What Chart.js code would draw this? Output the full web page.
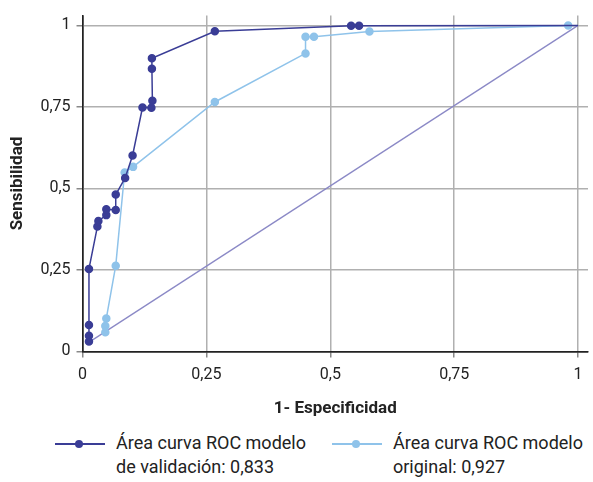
<!DOCTYPE html>
<html>
<head>
<meta charset="utf-8">
<script src="https://cdn.jsdelivr.net/npm/chart.js@4/dist/chart.umd.min.js"></script>
<style>
  body { margin: 0; background: #fff; font-family: Roboto, "Open Sans", sans-serif; }
  #wrap { position: relative; width: 593px; height: 482px; }
  #legend { position: absolute; left: 0; top: 431px; width: 593px; color: #222; font-size: 18px; line-height: 24px; }
  .item { position: absolute; top: 0; display: flex; }
  .sym { position: relative; width: 50px; height: 24px; margin-right: 11px; }
  .sym .ln { position: absolute; left: 0; right: 0; top: 12px; height: 2px; }
  .sym .dt { position: absolute; left: 20px; top: 9px; width: 8px; height: 8px; border-radius: 50%; }
  canvas { position: absolute; left: 0; top: 0; }
</style>
</head>
<body>
<div id="wrap">
  <canvas id="rocChart" width="593" height="422"></canvas>
  <div id="legend"></div>
</div>
<script>
const xTicks = [0, 0.25, 0.5, 0.75, 1];
const yTicks = [0, 0.25, 0.5, 0.75, 1];

const validX = [0.013, 0.013, 0.013, 0.013, 0.030, 0.032, 0.048, 0.048, 0.067, 0.067, 0.086, 0.101, 0.121, 0.139, 0.141, 0.140, 0.140, 0.267, 0.542, 0.558, 1];
const validY = [0.030, 0.048, 0.081, 0.253, 0.383, 0.400, 0.418, 0.436, 0.434, 0.481, 0.532, 0.601, 0.748, 0.747, 0.769, 0.867, 0.899, 0.982, 0.999, 0.999, 1];

const origX = [0.046, 0.046, 0.048, 0.067, 0.085, 0.102, 0.267, 0.450, 0.450, 0.467, 0.579, 0.980];
const origY = [0.059, 0.078, 0.101, 0.263, 0.549, 0.566, 0.765, 0.914, 0.965, 0.965, 0.981, 1.0];

const refX = [0.015, 1];
const refY = [0.03, 1];

const labels = ["Área curva ROC modelo\nde validación: 0,833", "Área curva ROC modelo\noriginal: 0,927"];
const colors = ["#3a3d96", "#8fc3ea", "#8b89c6"];

const toPoints = (xs, ys) => xs.map((x, i) => ({ x: x, y: ys[i] }));
const fontFamily = 'Roboto, "Open Sans", sans-serif';

const ctx = document.getElementById("rocChart").getContext("2d");
new Chart(ctx, {
  type: "scatter",
  data: {
    datasets: [
      {
        label: labels[0],
        data: toPoints(validX, validY),
        showLine: true,
        borderColor: colors[0],
        backgroundColor: colors[0],
        borderWidth: 1.5,
        // the end point (1,1) has no marker
        pointRadius: validX.map((x) => (x === 1 ? 0 : 3.5)),
        pointHoverRadius: 3.5,
        order: 1,
      },
      {
        label: labels[1],
        data: toPoints(origX, origY),
        showLine: true,
        borderColor: colors[1],
        backgroundColor: colors[1],
        borderWidth: 1.5,
        pointRadius: 3.5,
        pointHoverRadius: 3.5,
        order: 2,
      },
      {
        label: "ref",
        data: toPoints(refX, refY),
        showLine: true,
        borderColor: colors[2],
        borderWidth: 1.3,
        pointRadius: 0,
        order: 3,
      },
    ],
  },
  options: {
    responsive: false,
    animation: false,
    layout: { padding: { top: 14, right: 5, left: 4 } },
    plugins: { legend: { display: false }, tooltip: { enabled: false } },
    scales: {
      x: {
        type: "linear",
        min: 0,
        max: 1.02,
        afterBuildTicks: (axis) => { axis.ticks = xTicks.map((v) => ({ value: v })); },
        ticks: {
          color: "#222",
          font: { family: fontFamily, size: 16 },
          padding: 8,
          callback: (v) => String(v).replace(".", ","),
        },
        grid: {
          color: (c) => (c.tick && c.tick.value === 0 ? "#222" : "#b0b0b0"),
          lineWidth: 1.5,
          tickColor: "#888",
          tickLength: 6,
        },
        border: { color: "#222", width: 1.5 },
        title: {
          display: true,
          text: "1- Especificidad",
          color: "#222",
          font: { family: fontFamily, size: 17, weight: "bold" },
          padding: { top: 6, bottom: 3 },
        },
      },
      y: {
        type: "linear",
        min: 0,
        max: 1.03,
        afterBuildTicks: (axis) => { axis.ticks = yTicks.map((v) => ({ value: v })); },
        ticks: {
          color: "#222",
          font: { family: fontFamily, size: 16 },
          padding: 6,
          callback: (v) => String(v).replace(".", ","),
        },
        grid: {
          color: (c) => (c.tick && c.tick.value === 0 ? "#222" : "#b0b0b0"),
          lineWidth: 1.5,
          tickColor: "#888",
          tickLength: 6,
        },
        border: { color: "#222", width: 1.5 },
        title: {
          display: true,
          text: "Sensibilidad",
          color: "#222",
          font: { family: fontFamily, size: 17, weight: "bold" },
          padding: { bottom: 6 },
        },
      },
    },
  },
});

// legend as html so each label can wrap onto two lines
const legendEl = document.getElementById("legend");
const legendLeft = [55, 332];
labels.forEach((text, i) => {
  const item = document.createElement("div");
  item.className = "item";
  item.style.left = legendLeft[i] + "px";
  item.innerHTML =
    '<div class="sym"><div class="ln" style="background:' + colors[i] + '"></div>' +
    '<div class="dt" style="background:' + colors[i] + '"></div></div>' +
    "<div>" + text.replace("\n", "<br>") + "</div>";
  legendEl.appendChild(item);
});
</script>
</body>
</html>
